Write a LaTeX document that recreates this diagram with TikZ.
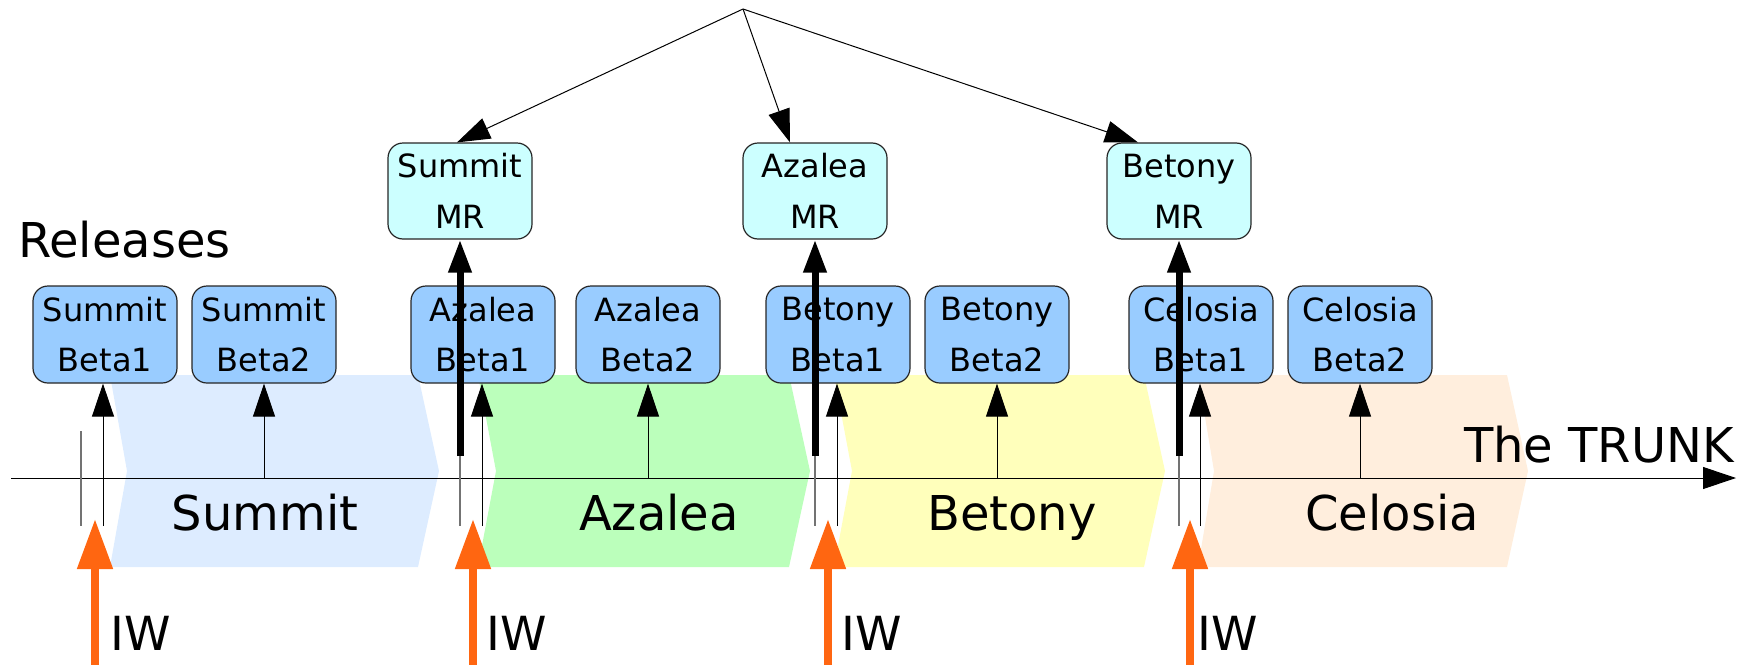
\documentclass[tikz,border=0pt]{standalone}
\usepackage{fontspec}
\setmainfont{DejaVu Sans}
\usepackage{tikz}
\usetikzlibrary{arrows.meta,positioning}

\definecolor{betablue}{HTML}{99CCFF}
\definecolor{mrcyan}{HTML}{CCFFFF}
\definecolor{summitc}{HTML}{DDECFF}
\definecolor{azaleac}{HTML}{BBFFBB}
\definecolor{betonyc}{HTML}{FFFFBB}
\definecolor{celosiac}{HTML}{FFEEDD}
\definecolor{iworange}{HTML}{FF6611}

\begin{document}
\begin{tikzpicture}[x=1pt,y=-1pt]
            \tikzstyle{beta}=[draw=black!85,line width=1.2pt,fill=betablue,rounded corners=15pt,minimum width=144pt,minimum height=97pt,inner sep=0pt,align=center,font=\fontsize{32}{50.7}\selectfont];
            \tikzstyle{mr}=[beta,fill=mrcyan,minimum height=96pt];
            \tikzstyle{phase}=[anchor=base,inner sep=0pt,font=\fontsize{48}{58}\selectfont];
            \tikzstyle{iwlabel}=[anchor=base west,inner sep=0pt,font=\fontsize{47}{56}\selectfont];
            \tikzstyle{relarrow}=[-{Triangle[length=33pt,width=22pt]},line width=1pt];
            \tikzstyle{mrarrow}=[relarrow,line width=7pt];
            \tikzstyle{iwarrow}=[-{Triangle[length=50pt,width=34pt]},line width=8pt,draw=iworange];
            \tikzstyle{cutline}=[draw=black!55,line width=1.3pt];
            \useasboundingbox (0,0) rectangle (1747,664);
            \fill[summitc] (110,375) -- (418,375) -- (439,471) -- (418,567) -- (110,567) -- (127,471) -- cycle;
            \fill[azaleac] (478,375) -- (789,375) -- (810,471) -- (789,567) -- (478,567) -- (496,471) -- cycle;
            \fill[betonyc] (834,375) -- (1144,375) -- (1165,471) -- (1144,567) -- (834,567) -- (852,471) -- cycle;
            \fill[celosiac] (1198,375) -- (1507,375) -- (1528,471) -- (1507,567) -- (1198,567) -- (1214,471) -- cycle;
            \node[phase] (summit) at (265,530) {Summit};
            \node[phase] (azalea) at (659,530) {Azalea};
            \node[phase] (betony) at (1012,530) {Betony};
            \node[phase] (celosia) at (1392,530) {Celosia};
            \node[anchor=base west,inner sep=0pt,font=\fontsize{48}{58}\selectfont] (releases) at (18,257) {Releases};
            \node[anchor=base east,inner sep=0pt,font=\fontsize{48}{58}\selectfont] (trunk) at (1734,462) {The TRUNK};
            \coordinate (t0) at (11,478);
            \coordinate (t1) at (1736,478);
            \path[draw] [relarrow] (t0) -- (t1);
            \node[beta] (sb1) at (105,334.5) {Summit\\Beta1};
            \node[beta] (sb2) at (264,334.5) {Summit\\Beta2};
            \node[beta] (ab1) at (483,334.5) {Azalea\\Beta1};
            \node[beta] (ab2) at (648,334.5) {Azalea\\Beta2};
            \node[beta] (bb1) at (838,334.5) {Betony\\Beta1};
            \node[beta] (bb2) at (997,334.5) {Betony\\Beta2};
            \node[beta] (cb1) at (1201,334.5) {Celosia\\Beta1};
            \node[beta] (cb2) at (1360,334.5) {Celosia\\Beta2};
            \node[mr] (smr) at (460,191) {Summit\\MR};
            \node[mr] (amr) at (815,191) {Azalea\\MR};
            \node[mr] (bmr) at (1179,191) {Betony\\MR};
            \coordinate (top) at (743,9);
            \path[draw] [relarrow] (top) -- ([xshift=-3pt]smr.north);
            \path[draw] [relarrow] (top) -- ([xshift=-25pt]amr.north);
            \path[draw] [relarrow] (top) -- ([xshift=-41pt]bmr.north);
            \coordinate (sg) at (81,431);
            \coordinate (ag) at (460,431);
            \coordinate (bg) at (815,431);
            \coordinate (cg) at (1179,431);
            \coordinate (sk) at (103,526);
            \coordinate (ak) at (482,526);
            \coordinate (bk) at (837,526);
            \coordinate (ck) at (1200,526);
            \path[draw] [cutline] (sg) -- (sg |- sk);
            \path[draw] [cutline] (ag) -- (ag |- ak);
            \path[draw] [cutline] (bg) -- (bg |- bk);
            \path[draw] [cutline] (cg) -- (cg |- ck);
            \path[draw] [relarrow] (sk) -- (sk |- sb1.south);
            \path[draw] [relarrow] (ak) -- (ak |- ab1.south);
            \path[draw] [relarrow] (bk) -- (bk |- bb1.south);
            \path[draw] [relarrow] (ck) -- (ck |- cb1.south);
            \path[draw] [relarrow] (sb2 |- t0) -- (sb2.south);
            \path[draw] [relarrow] (ab2 |- t0) -- (ab2.south);
            \path[draw] [relarrow] (bb2 |- t0) -- (bb2.south);
            \path[draw] [relarrow] (cb2 |- t0) -- (cb2.south);
            \coordinate (am) at (460,456);
            \coordinate (bm) at (815,456);
            \coordinate (cm) at (1179,456);
            \path[draw] [mrarrow] (am) -- (smr.south);
            \path[draw] [mrarrow] (bm) -- (amr.south);
            \path[draw] [mrarrow] (cm) -- (bmr.south);
            \coordinate (si0) at (95,666);
            \coordinate (si1) at (95,519);
            \coordinate (ai0) at (473,666);
            \coordinate (ai1) at (473,519);
            \coordinate (bi0) at (828,666);
            \coordinate (bi1) at (828,519);
            \coordinate (ci0) at (1190,666);
            \coordinate (ci1) at (1190,519);
            \path[draw] [iwarrow] (si0) -- (si1);
            \path[draw] [iwarrow] (ai0) -- (ai1);
            \path[draw] [iwarrow] (bi0) -- (bi1);
            \path[draw] [iwarrow] (ci0) -- (ci1);
            \node[iwlabel] (siw) at (110,650) {IW};
            \node[iwlabel] (aiw) at (486,650) {IW};
            \node[iwlabel] (biw) at (841,650) {IW};
            \node[iwlabel] (ciw) at (1197,650) {IW};
        \end{tikzpicture}
\end{document}
